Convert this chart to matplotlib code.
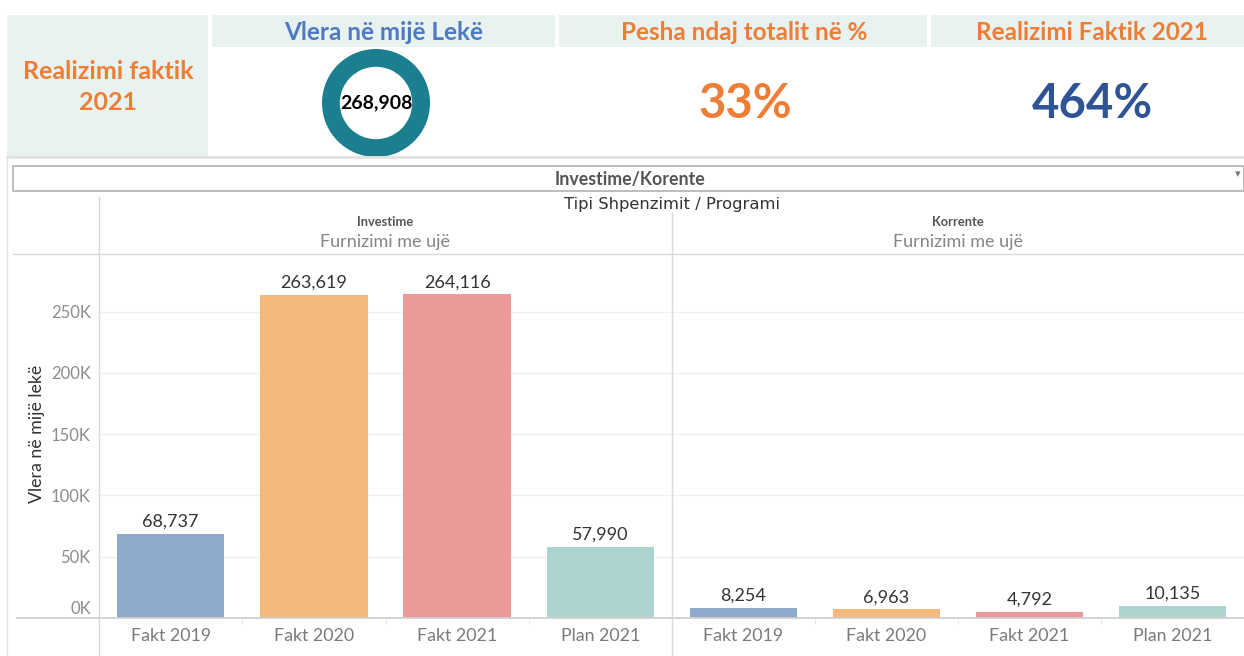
import matplotlib
matplotlib.use("Agg")
import matplotlib.pyplot as plt
from matplotlib.patches import Rectangle
from matplotlib.lines import Line2D
from matplotlib.transforms import ScaledTranslation

plt.rcParams["font.family"] = ["Lato", "DejaVu Sans"]

# data
categories = ["Fakt 2019", "Fakt 2020", "Fakt 2021", "Plan 2021"]
investime = [68737, 263619, 264116, 57990]
korrente = [8254, 6963, 4792, 10135]
donut_value = [268908]
pesha_pct = 33
realizimi_pct = 464
y_ticks = [0, 50000, 100000, 150000, 200000, 250000]
y_tick_labels = ["0K", "50K", "100K", "150K", "200K", "250K"]

bar_colors = ["#8FAACA", "#F5B97C", "#EB9999", "#ABD4D0"]
orange = "#EE7D35"
W, H = 1244, 656


def box(x0, y0, x1, y1):
    # pixel box (top-left origin) -> figure fraction rect
    return [x0 / W, 1 - y1 / H, (x1 - x0) / W, (y1 - y0) / H]


def fx(x):
    return x / W


def fy(y):
    return 1 - y / H


fig = plt.figure(figsize=(W / 100, H / 100), dpi=100)
fig.patch.set_facecolor("white")

# ---- top KPI strip ----
cell_bg = "#E8F2F0"
fig.patches.append(Rectangle((fx(7), fy(157)), fx(201), 142 / H, transform=fig.transFigure,
                             facecolor=cell_bg, edgecolor="none"))
for x0, x1 in [(212, 555), (559, 927), (931, 1244)]:
    fig.patches.append(Rectangle((fx(x0), fy(47)), fx(x1 - x0), 32 / H, transform=fig.transFigure,
                                 facecolor=cell_bg, edgecolor="none"))

fig.text(fx(108), fy(87), "Realizimi faktik\n2021", color=orange, fontsize=18,
         fontweight="bold", ha="center", va="center", linespacing=1.45)
fig.text(fx(384), fy(32), "Vlera në mijë Lekë", color="#4F7ABF", fontsize=17.5,
         fontweight="bold", ha="center", va="center")
fig.text(fx(744), fy(32), "Pesha ndaj totalit në %", color=orange, fontsize=17.5,
         fontweight="bold", ha="center", va="center")
fig.text(fx(1092), fy(32), "Realizimi Faktik 2021", color=orange, fontsize=17.5,
         fontweight="bold", ha="center", va="center")
fig.text(fx(745), fy(104), f"{pesha_pct}%", color=orange, fontsize=34,
         fontweight="bold", ha="center", va="center")
fig.text(fx(1092), fy(104), f"{realizimi_pct}%", color="#2F5496", fontsize=34,
         fontweight="bold", ha="center", va="center")

ax_d = fig.add_axes(box(322, 49, 430, 157))
ax_d.pie(donut_value, colors=["#1B7F8F"], radius=1, startangle=90,
         wedgeprops=dict(width=0.33, edgecolor="none"))
ax_d.set_xlim(-1, 1)
ax_d.set_ylim(-1, 1)
ax_d.set_aspect("equal")
ax_d.axis("off")
ax_d.text(0, 0, f"{donut_value[0]:,}", ha="center", va="center", fontsize=14,
          fontweight="bold", color="black")

# ---- bottom frame lines and headers ----
line_c = "#DADADA"
fig.add_artist(Line2D([fx(7), fx(1244)], [fy(157), fy(157)], color="#E2E2E2", lw=2))
fig.add_artist(Line2D([fx(7), fx(7)], [fy(157), fy(656)], color="#E2E2E2", lw=1))
fig.patches.append(Rectangle((fx(13), fy(191)), fx(1231), 25 / H, transform=fig.transFigure,
                             facecolor="white", edgecolor="#B8B8B8", lw=1.3))
fig.text(fx(630), fy(179), "Investime/Korente", ha="center", va="center", fontsize=12.8,
         fontweight="bold", color="#555555")
fig.text(fx(1238), fy(174), "▾", ha="center", va="center", fontsize=8, color="#777777",
         family="DejaVu Sans")
fig.text(fx(672), fy(205), "Tipi Shpenzimit / Programi", ha="center", va="center",
         fontsize=11.8, color="#333333", family="DejaVu Sans")
for cx, name in [(385, "Investime"), (958, "Korrente")]:
    fig.text(fx(cx), fy(222), name, ha="center", va="center", fontsize=9.3,
             fontweight="bold", color="#555555")
    fig.text(fx(cx), fy(242), "Furnizimi me ujë", ha="center", va="center",
             fontsize=13, color="#858585")

fig.add_artist(Line2D([fx(13), fx(1244)], [fy(254), fy(254)], color=line_c, lw=1))
fig.add_artist(Line2D([fx(99), fx(99)], [fy(197), fy(656)], color=line_c, lw=1))
fig.add_artist(Line2D([fx(672), fx(672)], [fy(213), fy(656)], color=line_c, lw=1))
fig.add_artist(Line2D([fx(17), fx(1244)], [fy(618), fy(618)], color="#D0D0D0", lw=1.3))

fig.text(fx(37), fy(434), "Vlera në mijë lekë", rotation=90, ha="center", va="center",
         fontsize=12.8, color="#333333")

# ---- bar panels ----
ax_l = fig.add_axes(box(99, 254, 672, 618))
ax_r = fig.add_axes(box(672, 254, 1244, 618))

for ax, vals in [(ax_l, investime), (ax_r, korrente)]:
    x = range(len(categories))
    ax.bar(x, vals, width=0.75, color=bar_colors, zorder=2)
    for i, v in enumerate(vals):
        ax.annotate(f"{v:,}", (i, v), xytext=(0, 3), textcoords="offset points",
                    ha="center", va="bottom", fontsize=13, color="#333333")
    ax.set_xlim(-0.5, 3.5)
    ax.set_ylim(0, 297000)
    ax.set_yticks(y_ticks)
    ax.yaxis.grid(True, color="#F0F0F0", lw=1, zorder=0)
    ax.set_axisbelow(True)
    ax.set_xticks(list(x))
    ax.set_xticklabels(categories, fontsize=12.8, color="#7A7A7A")
    ax.set_xticks([0.5, 1.5, 2.5], minor=True)
    ax.tick_params(axis="x", which="major", length=0, pad=7)
    ax.tick_params(axis="x", which="minor", length=4, color="#E6E6E6", direction="out")
    ax.tick_params(axis="y", length=0)
    for s in ax.spines.values():
        s.set_visible(False)
    ax.patch.set_alpha(0)

ax_l.set_yticklabels(y_tick_labels, fontsize=12, color="#8C8C8C")
ax_l.tick_params(axis="y", pad=6)
# Tableau lifts the zero label above the baseline
zero_lbl = ax_l.get_yticklabels()[0]
zero_lbl.set_transform(zero_lbl.get_transform() + ScaledTranslation(0, 10 / 100, fig.dpi_scale_trans))
ax_r.set_yticklabels([])

fig.savefig("out.png", dpi=100)
